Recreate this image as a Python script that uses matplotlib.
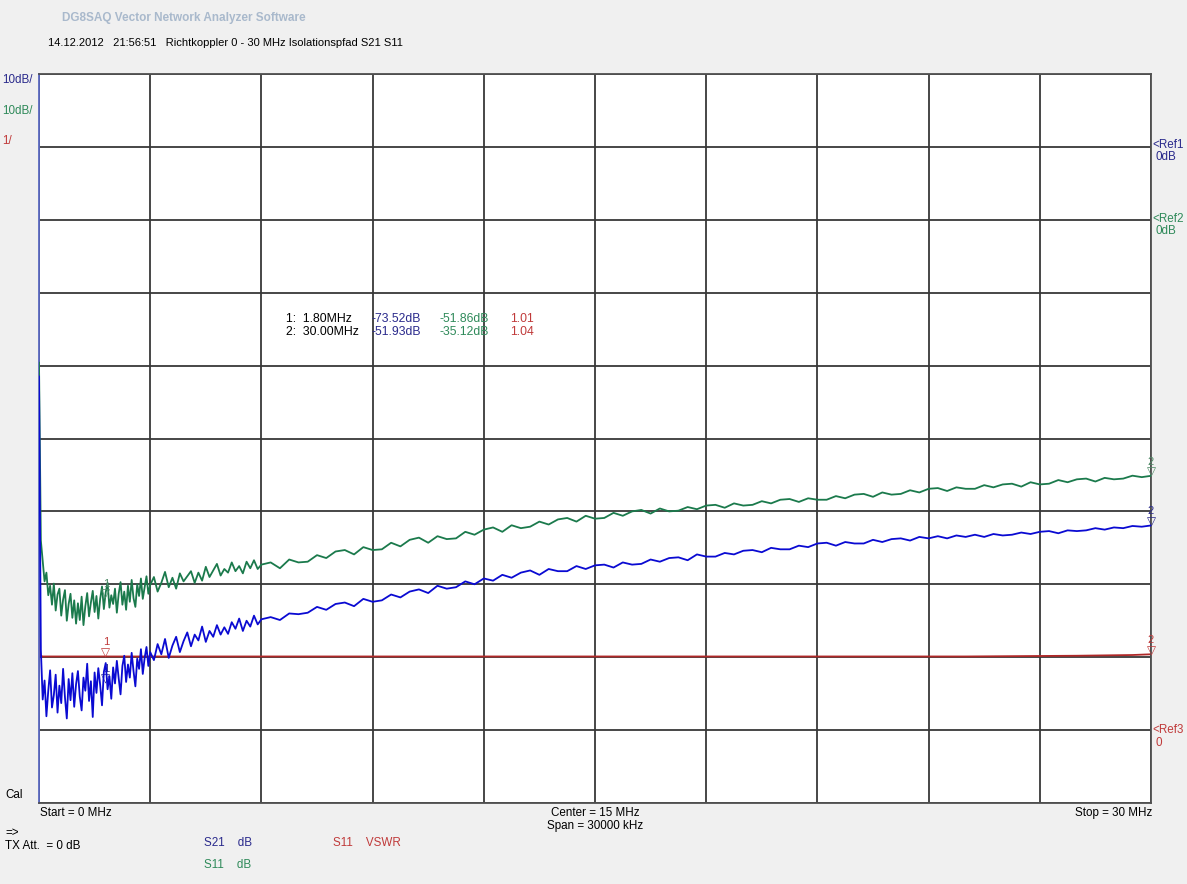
import numpy as np
import matplotlib
matplotlib.use("Agg")
import matplotlib.pyplot as plt

# colours
BLUE = "#0a0ad2"
BLUE_TXT = "#2a2a8c"
GREEN = "#1b7a4c"
GREEN_TXT = "#2f8a5a"
RED = "#b02828"
RED_TXT = "#c03a3a"
GRID = "#383838"

plt.rcParams['font.family'] = ['Liberation Sans', 'DejaVu Sans']
FS = 8.4

# sweep points (MHz)
freq_head = [0.0, 0.03]
freq_a1 = np.round(np.arange(0.05, 3.0001, 0.05), 2)   # 0.05 .. 3.0
freq_a2 = np.round(np.arange(3.1, 6.0001, 0.1), 2)     # 3.1 .. 6.0
freq_b = np.round(np.arange(6.25, 30.0001, 0.25), 2)   # 6.25 .. 30

# S21 (dB)
s21_head = [-31.5, -55.0]
s21_a1 = [
    -69.0, -75.8, -73.2, -78.1, -74.6, -71.8, -76.9, -75.2, -72.4, -77.6,
    -73.9, -76.3, -71.6, -75.5, -78.4, -73.0, -75.9, -72.2, -76.8, -73.7,
    -71.9, -75.4, -77.3, -72.8, -74.6, -70.9, -76.0, -73.3, -78.2, -72.1,
    -74.9, -71.5, -73.8, -76.6, -72.0, -70.8, -74.4, -72.6, -75.7, -71.4,
    -73.6, -70.5, -72.9, -75.1, -71.2, -69.8, -73.4, -71.0, -72.8, -69.4,
    -71.9, -74.0, -70.2, -71.6, -68.9, -72.3, -70.1, -68.6, -71.2, -69.3,
]
s21_a2 = [
    -70.4, -68.2, -69.6, -67.5, -70.1, -68.4, -67.2, -69.3, -67.8, -66.6,
    -68.5, -66.9, -67.7, -65.8, -67.9, -66.4, -67.2, -65.6, -66.9, -65.9,
    -66.8, -65.2, -66.1, -64.7, -66.4, -65.0, -65.8, -64.3, -65.5, -64.8,
]
s21_b = [
    -64.5, -64.9, -64.0, -64.1,
    -63.9, -63.1, -63.5, -62.7,
    -62.5, -63.0, -62.0, -62.4,
    -62.2, -61.4, -61.8, -61.0,
    -60.7, -61.2, -60.2, -60.6,
    -60.4, -59.6, -60.0, -59.2,
    -59.5, -58.7, -59.1, -58.4,
    -58.1, -58.7, -57.9, -58.2,
    -58.2, -57.5, -57.9, -57.4,
    -57.3, -57.7, -57.0, -57.3,
    -57.2, -56.6, -56.9, -56.4,
    -56.3, -56.7, -55.9, -56.2,
    -56.2, -55.7, -55.9, -55.4,
    -55.3, -55.6, -55.0, -55.2,
    -55.2, -54.7, -54.9, -54.4,
    -54.3, -54.7, -54.2, -54.4,
    -54.4, -53.9, -54.2, -53.8,
    -53.7, -54.0, -53.5, -53.7,
    -53.4, -53.7, -53.3, -53.5,
    -53.2, -53.5, -53.1, -53.3,
    -53.2, -52.9, -53.1, -52.8,
    -52.7, -53.0, -52.6, -52.7,
    -52.6, -52.3, -52.5, -52.2,
    -52.3, -52.0, -52.1, -51.93,
]

# S11 (dB)
s11_head = [-19.6, -35.0]
s11_a1 = [
    -44.0, -46.8, -49.6, -48.4, -51.5, -50.2, -52.8, -49.9, -53.6, -51.4,
    -50.6, -54.3, -52.1, -50.8, -55.0, -52.7, -51.3, -54.6, -52.2, -55.4,
    -52.6, -54.9, -51.7, -55.6, -53.0, -51.2, -54.4, -52.5, -50.9, -53.8,
    -51.6, -54.7, -52.0, -50.3, -53.4, -51.1, -49.8, -53.2, -51.5, -52.7,
    -50.6, -53.9, -51.3, -49.7, -52.8, -51.0, -53.5, -50.2, -52.4, -49.4,
    -51.9, -53.1, -50.0, -51.6, -49.2, -52.0, -50.4, -48.9, -51.3, -50.1,
]
s11_a2 = [
    -49.0, -51.0, -49.8, -48.3, -50.4, -49.1, -50.6, -48.5, -49.6, -48.9,
    -48.2, -49.8, -48.4, -49.5, -47.6, -49.0, -48.1, -47.2, -48.8, -47.9,
    -48.4, -47.0, -48.2, -47.5, -48.5, -46.9, -47.8, -46.7, -47.9, -47.3,
]
s11_b = [
    -47.0, -47.8, -46.6, -47.0,
    -46.9, -46.0, -46.4, -45.5,
    -45.3, -45.9, -44.9, -45.3,
    -45.2, -44.3, -44.8, -43.9,
    -43.6, -44.3, -43.4, -43.8,
    -43.7, -42.8, -43.2, -42.5,
    -42.2, -42.8, -41.9, -42.3,
    -42.1, -41.4, -41.8, -41.1,
    -40.9, -41.4, -40.6, -41.0,
    -40.9, -40.2, -40.6, -40.0,
    -39.8, -40.3, -39.6, -40.0,
    -39.9, -39.4, -39.7, -39.2,
    -39.1, -39.5, -38.9, -39.2,
    -39.1, -38.6, -38.9, -38.4,
    -38.3, -38.7, -38.2, -38.4,
    -38.4, -37.9, -38.2, -37.7,
    -37.6, -38.0, -37.4, -37.7,
    -37.6, -37.1, -37.4, -36.9,
    -36.8, -37.2, -36.7, -36.9,
    -36.9, -36.4, -36.7, -36.3,
    -36.2, -36.6, -36.0, -36.3,
    -36.2, -35.7, -36.0, -35.6,
    -35.5, -35.9, -35.4, -35.6,
    -35.5, -35.1, -35.3, -35.12,
]

# S11 VSWR
vswr_freq = [0.0, 0.03, 0.1, 1.8, 5.0, 10.0, 15.0, 20.0, 25.0, 28.0, 29.5, 30.0]
vswr = [1.25, 1.02, 1.01, 1.01, 1.01, 1.01, 1.01, 1.01, 1.01, 1.02, 1.03, 1.04]

# markers
mk_freq = [1.8, 30.0]
mk_s21 = [-73.52, -51.93]
mk_s11 = [-51.86, -35.12]
mk_vswr = [1.01, 1.04]

freq = np.concatenate([freq_head, freq_a1, freq_a2, freq_b])
s21 = np.concatenate([s21_head, s21_a1, s21_a2, s21_b])
s11 = np.concatenate([s11_head, s11_a1, s11_a2, s11_b])

W, H = 1187, 884
fig = plt.figure(figsize=(W / 100, H / 100), dpi=100, facecolor="#f0f0f0")

def fx(px):
    return px / W

def fy(py):
    return 1 - py / H

# base axes: VSWR scale (1/div, ref 0 one line above bottom) carries the grid
ax = fig.add_axes([fx(39), fy(803), (1151 - 39) / W, (803 - 74) / H])
ax.set_facecolor("white")
ax.set_xlim(0, 30)
ax.set_ylim(-1, 9)
ax.set_xticks(np.arange(0, 31, 3))
ax.set_yticks(np.arange(-1, 10, 1))
ax.grid(True, color=GRID, linewidth=1.3)
for s in ax.spines.values():
    s.set_color("#505050")
    s.set_linewidth(1.3)
ax.spines["left"].set_color("#5a68c0")
ax.plot(vswr_freq, vswr, color=RED, linewidth=1.3)

ax_s11 = ax.twinx()
ax_s11.set_ylim(-80, 20)
ax_s11.plot(freq, s11, color=GREEN, linewidth=1.3)

ax_s21 = ax.twinx()
ax_s21.set_ylim(-90, 10)
ax_s21.plot(freq, s21, color=BLUE, linewidth=1.3, zorder=2)

for a in (ax_s11, ax_s21):
    a.set_xlim(0, 30)
    a.axis("off")
# twinx switches the left ticks back on, so hide them afterwards
ax.tick_params(left=False, bottom=False, right=False, top=False,
               labelleft=False, labelbottom=False)


def marker(a, f, v, num, col, z=3):
    a.annotate("\u25bd", (f, v), xytext=(0, -2), textcoords="offset points",
               ha="center", va="bottom", fontsize=8.5, color=col, zorder=z,
               family="DejaVu Sans", annotation_clip=False)
    a.annotate(num, (f, v), xytext=(0, 6.5), textcoords="offset points",
               ha="center", va="bottom", fontsize=8, color=col, zorder=z,
               annotation_clip=False)


for i, f in enumerate(mk_freq):
    n = str(i + 1)
    marker(ax, f, mk_vswr[i], n, RED_TXT)
    marker(ax_s11, f, mk_s11[i], n, "#4f8a66")
    marker(ax_s21, f, mk_s21[i], n, BLUE_TXT, z=1 if i == 0 else 3)

# header
fig.text(fx(62), fy(18), "DG8SAQ Vector Network Analyzer Software", fontsize=8.5,
         fontweight="bold", color="#a9b9cc", va="center")
fig.text(fx(48), fy(43), "14.12.2012   21:56:51   Richtkoppler 0 - 30 MHz Isolationspfad S21 S11",
         fontsize=8, color="black", va="center")

# scale labels on the left
fig.text(fx(2), fy(80), "10dB/", fontsize=FS, color=BLUE_TXT, va="center")
fig.text(fx(2), fy(111), "10dB/", fontsize=FS, color=GREEN_TXT, va="center")
fig.text(fx(2), fy(141), "1/", fontsize=FS, color=RED_TXT, va="center")

# reference labels on the right
fig.text(fx(1152), fy(145), "<Ref1", fontsize=FS, color=BLUE_TXT, va="center")
fig.text(fx(1156), fy(157), "0dB", fontsize=FS, color=BLUE_TXT, va="center")
fig.text(fx(1152), fy(219), "<Ref2", fontsize=FS, color=GREEN_TXT, va="center")
fig.text(fx(1156), fy(231), "0dB", fontsize=FS, color=GREEN_TXT, va="center")
fig.text(fx(1152), fy(730), "<Ref3", fontsize=FS, color=RED_TXT, va="center")
fig.text(fx(1156), fy(743), "0", fontsize=FS, color=RED_TXT, va="center")

# marker table
rows_y = [319, 332]
mk_lbl = ["1:  1.80MHz", "2:  30.00MHz"]
s21_lbl = ["-73.52dB", "-51.93dB"]
s11_lbl = ["-51.86dB", "-35.12dB"]
vswr_lbl = ["1.01", "1.04"]
for i, yy in enumerate(rows_y):
    fig.text(fx(286), fy(yy), mk_lbl[i], fontsize=8.8, color="black", va="center")
    fig.text(fx(372), fy(yy), s21_lbl[i], fontsize=8.8, color=BLUE_TXT, va="center")
    fig.text(fx(439), fy(yy), s11_lbl[i], fontsize=8.8, color=GREEN_TXT, va="center")
    fig.text(fx(510), fy(yy), vswr_lbl[i], fontsize=8.8, color=RED_TXT, va="center")

# bottom texts
fig.text(fx(5), fy(795), "Cal", fontsize=FS, color="black", va="center")
fig.text(fx(40), fy(813), "Start = 0 MHz", fontsize=FS, color="black", va="center")
fig.text(fx(595), fy(813), "Center = 15 MHz", fontsize=FS, color="black", va="center", ha="center")
fig.text(fx(595), fy(826), "Span = 30000 kHz", fontsize=FS, color="black", va="center", ha="center")
fig.text(fx(1152), fy(813), "Stop = 30 MHz", fontsize=FS, color="black", va="center", ha="right")
fig.text(fx(5), fy(833), "=>", fontsize=FS, color="black", va="center")
fig.text(fx(5), fy(846), "TX Att.  = 0 dB", fontsize=FS, color="black", va="center")

fig.text(fx(204), fy(843), "S21    dB", fontsize=FS, color=BLUE_TXT, va="center")
fig.text(fx(204), fy(865), "S11    dB", fontsize=FS, color=GREEN_TXT, va="center")
fig.text(fx(333), fy(843), "S11    VSWR", fontsize=FS, color=RED_TXT, va="center")

fig.savefig("out.png", dpi=100, facecolor=fig.get_facecolor())
